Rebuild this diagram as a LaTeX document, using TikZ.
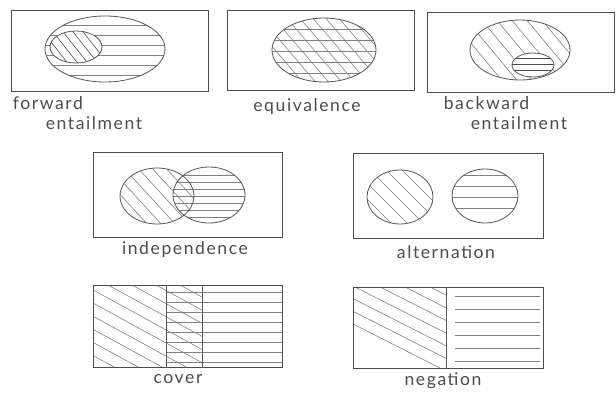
\documentclass[tikz,border=0pt]{standalone}
\usepackage{fontspec}
\newfontfamily\handfont[LetterSpace=9]{Lato}
\usetikzlibrary{positioning}
\tikzset{
	frame/.style={draw=black!70, line width=0.8pt},
	venn/.style={draw=black!65, line width=0.7pt},
	hatch/.style={draw=black!50, line width=0.5pt},
	caption/.style={font=\handfont\fontsize{15}{17}\selectfont, text=black!70, inner sep=0.5pt}
}

\begin{document}
\begin{tikzpicture}[x=0.03cm, y=-0.03cm]
	\useasboundingbox (0,0) rectangle (616,392);
	
	% Forward entailment: small set inside the big one
	\draw[frame] (11,10) rectangle (208,91);
	\begin{scope}
		\clip (105,49) ellipse (60 and 33);
		\foreach \y in {25,35,...,76} \draw[hatch] (40,\y) -- (170,\y);
	\end{scope}
	\fill[white] (76,47) ellipse (26 and 16);
	\begin{scope}
		\clip (76,47) ellipse (26 and 16);
		\foreach \x in {20,30,...,110} \draw[hatch, draw=black!70] (\x,28) -- ++(30,38);
	\end{scope}
	\draw[venn] (105,49) ellipse (60 and 33);
	\draw[venn] (76,47) ellipse (26 and 16);
	\node[caption, anchor=west] (fwd) at (12,103) {forward};
	\node[caption, anchor=west] (fwdb) at (45,123) {entailment};
	
	% Equivalence: both patterns on one set
	\draw[frame] (227,10) rectangle (414,90);
	\begin{scope}
		\clip (324,50) ellipse (52 and 32);
		\foreach \y in {29,40,...,75} \draw[hatch] (265,\y) -- (385,\y);
		\foreach \x in {220,233,...,400} \draw[hatch] (\x,16) -- ++(60,70);
	\end{scope}
	\draw[venn] (324,50) ellipse (52 and 32);
	\node[caption] (equiv) at (307,107) {equivalence};
	
	% Backward entailment: big set holds the small one
	\draw[frame] (427,12) rectangle (614,92);
	\begin{scope}
		\clip (520,50) ellipse (50 and 30);
		\foreach \x in {405,420,...,580} \draw[hatch] (\x,18) -- ++(55,66);
	\end{scope}
	\fill[white] (533,65) ellipse (21 and 12);
	\begin{scope}
		\clip (533,65) ellipse (21 and 12);
		\foreach \y in {58,64,...,74} \draw[hatch, draw=black!70] (510,\y) -- (556,\y);
	\end{scope}
	\draw[venn] (520,50) ellipse (50 and 30);
	\draw[venn] (533,65) ellipse (21 and 12);
	\node[caption, anchor=west] (bwd) at (443,103) {backward};
	\node[caption, anchor=west] (bwdb) at (470,123) {entailment};
	
	% Independence: two overlapping sets
	\draw[frame] (93,152) rectangle (282,237);
	\begin{scope}
		\clip (157,196) ellipse (37 and 28);
		\foreach \x in {80,94,...,200} \draw[hatch] (\x,166) -- ++(55,60);
	\end{scope}
	\begin{scope}
		\clip (209,195) ellipse (36 and 28);
		\foreach \y in {175,182,...,218} \draw[hatch] (170,\y) -- (250,\y);
	\end{scope}
	\draw[venn] (157,196) ellipse (37 and 28);
	\draw[venn] (209,195) ellipse (36 and 28);
	\node[caption] (indep) at (185,250) {independence};
	
	% Alternation: two disjoint sets
	\draw[frame] (353,153) rectangle (543,238);
	\begin{scope}
		\clip (400,197) ellipse (33 and 27);
		\foreach \x in {320,336,...,430} \draw[hatch] (\x,168) -- ++(58,58);
	\end{scope}
	\begin{scope}
		\clip (485,196) ellipse (33 and 27);
		\foreach \y in {175,186,...,218} \draw[hatch] (450,\y) -- (520,\y);
	\end{scope}
	\draw[venn] (400,197) ellipse (33 and 27);
	\draw[venn] (485,196) ellipse (33 and 27);
	\node[caption] (alter) at (446,252) {alternation};
	
	% Cover: the two halves overlap in a strip
	\begin{scope}
		\clip (93,285) rectangle (202,367);
		\foreach \x in {-60,-36,...,200} \draw[hatch] (\x,285) -- ++(150,82);
	\end{scope}
	\begin{scope}
		\clip (166,285) rectangle (282,367);
		\foreach \y in {292,302,...,362} \draw[hatch] (166,\y) -- (282,\y);
	\end{scope}
	\draw[frame] (93,285) rectangle (282,367);
	\draw[venn] (166,285) -- (166,367);
	\draw[venn] (202,285) -- (202,367);
	\node[caption] (cover) at (178,379) {cover};
	
	% Negation: the two halves split the box
	\begin{scope}
		\clip (353,287) rectangle (446,368);
		\foreach \x in {280,305,...,450} \draw[hatch] (\x,287) -- ++(160,81);
	\end{scope}
	\begin{scope}
		\clip (446,287) rectangle (543,368);
		\foreach \y in {296,309,...,362} \draw[hatch] (455,\y) -- (540,\y);
	\end{scope}
	\draw[frame] (353,287) rectangle (543,368);
	\draw[venn] (446,287) -- (446,368);
	\node[caption] (neg) at (443,381) {negation};
	
\end{tikzpicture}
\end{document}
